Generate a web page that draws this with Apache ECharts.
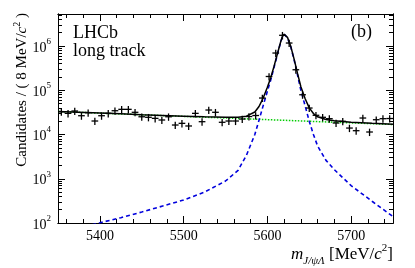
<!DOCTYPE html>
<html><head><meta charset="utf-8">
<script src="https://cdn.jsdelivr.net/npm/echarts@6/dist/echarts.min.js"></script>
<style>html,body{margin:0;padding:0;background:#fff}#c{width:415px;height:268px}</style>
</head><body><div id="c"></div>
<script>
// ---- data ----
const binCenters = [5354,5362,5370,5378,5386,5394,5402,5410,5418,5426,5434,5442,5450,5458,5466,5474,5482,5490,5498,5506,5514,5522,5530,5538,5546,5554,5562,5570,5578,5586,5594,5602,5610,5618,5626,5634,5642,5650,5658,5666,5674,5682,5690,5698,5706,5714,5722,5730,5738,5746];
const counts = [32700,30100,34000,26600,31100,20200,26600,30100,34500,37100,37100,31800,25200,24500,23200,21300,25200,16400,17900,15600,30100,19500,35800,31800,18900,20200,20200,22400,25500,26900,66800,205000,695000,1750000,1170000,291000,79200,39700,27200,24500,22800,18200,19900,14000,12200,23600,11400,21600,22800,23000];
const errFrac = [0.19,0.19,0.19,0.19,0.19,0.19,0.19,0.19,0.19,0.19,0.19,0.19,0.19,0.19,0.19,0.19,0.19,0.19,0.19,0.19,0.19,0.19,0.19,0.19,0.19,0.19,0.19,0.19,0.19,0.19,0.19,0.19,0.19,0.19,0.19,0.19,0.19,0.19,0.19,0.19,0.19,0.19,0.19,0.19,0.19,0.19,0.19,0.19,0.19,0.19];
const binHalfWidth = 4;
const curveX = [5350,5375,5400,5425,5450,5475,5500,5525,5550,5565,5575,5585,5590,5595,5600,5604,5608,5612,5616,5618,5620,5622,5624,5628,5632,5636,5640,5645,5650,5655,5660,5670,5680,5700,5725,5750];
const signalCurve = [60,78,101,132,177,242,331,500,890,1550,3400,10000,21000,45000,95000,170000,330000,650000,1250000,1620000,1830000,1780000,1550000,950000,480000,220000,100000,45000,20000,10000,5500,2600,1600,700,310,140];
const bkgCurve = [33100,31750,30430,29170,27960,26810,25700,24640,23620,23030,22640,22260,22070,21890,21700,21560,21410,21270,21130,21050,20980,20910,20840,20700,20560,20420,20280,20120,19940,19770,19610,19280,18960,18330,17570,16840];
const totalCurve = [33160,31830,30530,29300,28140,27050,26030,25140,24510,24580,26040,32260,43070,66890,116700,191560,351410,671270,1271130,1641050,1850980,1800910,1570840,970700,500560,240420,120280,65120,39940,29770,25110,21880,20560,19030,17880,16980];
const xMajorTicks = [5400,5500,5600,5700];
const xMinorTicks = [5360,5380,5420,5440,5460,5480,5520,5540,5560,5580,5620,5640,5660,5680,5720,5740];
const yMajorTicks = [100,1000,10000,100000,1000000];
const yMinorMult = [2,3,4,5,6,7,8,9];
const xRange = [5350,5750];
const yRange = [100,5300000];

// ---- build ----
const L = Math.log10;
const yMin = L(yRange[0]), yMax = L(yRange[1]);
const yMajorLog = yMajorTicks.map(L);
const yMinorLog = [];
yMajorTicks.forEach(p => yMinorMult.forEach(k => { const v = L(k*p); if (v < yMax) yMinorLog.push(v); }));
const FONT = 'Liberation Serif';

function xAx(pos, vals, len, showLabel) {
  return {type:'value', position:pos, min:xRange[0], max:xRange[1], gridIndex:0,
    axisLine:{show:true,onZero:false,lineStyle:{color:'#000',width:1}},
    axisTick:{show:true,inside:true,length:len,customValues:vals,lineStyle:{color:'#000',width:1}},
    axisLabel:{show:showLabel,customValues:vals,margin:6,color:'#000',fontFamily:FONT,fontSize:14,
      formatter: v => String(v)},
    splitLine:{show:false}};
}
function yAx(pos, vals, len, showLabel) {
  return {type:'value', position:pos, min:yMin, max:yMax, gridIndex:0,
    axisLine:{show:true,onZero:false,lineStyle:{color:'#000',width:1}},
    axisTick:{show:true,inside:true,length:len,customValues:vals,lineStyle:{color:'#000',width:1}},
    axisLabel:{show:showLabel,customValues:vals,margin:7,color:'#000',fontFamily:FONT,
      formatter: v => '{b|10}{s|' + Math.round(v) + '}',
      rich:{b:{fontSize:14,fontFamily:FONT,color:'#000',verticalAlign:'bottom',lineHeight:18},
            s:{fontSize:9,fontFamily:FONT,color:'#000',verticalAlign:'top',lineHeight:18}}},
    splitLine:{show:false}};
}

const pts = binCenters.map((x,i) => [x, L(counts[i]), L(counts[i]*(1-errFrac[i])), L(counts[i]*(1+errFrac[i]))]);
const line = (ys) => curveX.map((x,i) => [x, L(ys[i])]);

const chart = echarts.init(document.getElementById('c'), null, {renderer:'canvas'});
chart.setOption({
  animation:false,
  grid:{left:58,right:22,top:14,bottom:45,containLabel:false},
  xAxis:[xAx('bottom',xMajorTicks,7,true), xAx('bottom',xMinorTicks,4,false),
         xAx('top',xMajorTicks,7,false), xAx('top',xMinorTicks,4,false)],
  yAxis:[yAx('left',yMajorLog,7,true), yAx('left',yMinorLog,4,false),
         yAx('right',yMajorLog,7,false), yAx('right',yMinorLog,4,false)],
  series:[
    {type:'line', data:line(bkgCurve), showSymbol:false, clip:true, smooth:false,
     lineStyle:{color:'#00cc00',width:1.5,type:[1.5,1.5]}, z:2},
    {type:'line', data:line(signalCurve), showSymbol:false, clip:true, smooth:false,
     lineStyle:{color:'#0000dd',width:1.6,type:[4,3]}, z:3},
    {type:'line', data:line(totalCurve), showSymbol:false, clip:true, smooth:false,
     lineStyle:{color:'#000',width:1.5}, z:4},
    {type:'custom', data:pts, clip:true, z:5,
     renderItem:(params, api) => {
       const x = api.value(0), y = api.value(1);
       const pl = api.coord([x-binHalfWidth, y]), pr = api.coord([x+binHalfWidth, y]);
       const plo = api.coord([x, api.value(2)]), phi = api.coord([x, api.value(3)]);
       const st = {stroke:'#000', lineWidth:1.3};
       return {type:'group', children:[
         {type:'line', shape:{x1:pl[0],y1:pl[1],x2:pr[0],y2:pr[1]}, style:st},
         {type:'line', shape:{x1:plo[0],y1:plo[1],x2:phi[0],y2:phi[1]}, style:st}
       ]};
     }}
  ],
  graphic:[
    {type:'text', left:73, top:24, style:{text:'LHCb', font:'18px "Liberation Serif"', fill:'#000'}},
    {type:'text', left:73, top:42, style:{text:'long track', font:'18px "Liberation Serif"', fill:'#000'}},
    {type:'text', left:351, top:23, style:{text:'(b)', font:'18px "Liberation Serif"', fill:'#000'}},
    {type:'text', x:21, y:13, rotation:Math.PI/2,
     style:{text:'{n|Candidates / ( 8 MeV/}{i|c}{s|2}{n| )}', align:'right', verticalAlign:'middle',
       rich:{n:{fontSize:15,fontFamily:FONT,color:'#000',verticalAlign:'bottom',lineHeight:18},
             i:{fontSize:15,fontFamily:FONT,fontStyle:'italic',color:'#000',verticalAlign:'bottom',lineHeight:18},
             s:{fontSize:10,fontFamily:FONT,color:'#000',verticalAlign:'top',lineHeight:18}}}},
    {type:'text', x:393, y:255,
     style:{text:'{m|m}{sub|J/ψΛ}{n| [MeV/}{i|c}{s|2}{n|]}', align:'right', verticalAlign:'middle',
       rich:{m:{fontSize:17,fontFamily:FONT,fontStyle:'italic',color:'#000',verticalAlign:'middle',lineHeight:20},
             sub:{fontSize:11,fontFamily:FONT,fontStyle:'italic',color:'#000',verticalAlign:'bottom',lineHeight:24},
             n:{fontSize:17,fontFamily:FONT,color:'#000',verticalAlign:'middle',lineHeight:20},
             i:{fontSize:17,fontFamily:FONT,fontStyle:'italic',color:'#000',verticalAlign:'middle',lineHeight:20},
             s:{fontSize:11,fontFamily:FONT,color:'#000',verticalAlign:'top',lineHeight:20}}}}
  ]
});
</script></body></html>
